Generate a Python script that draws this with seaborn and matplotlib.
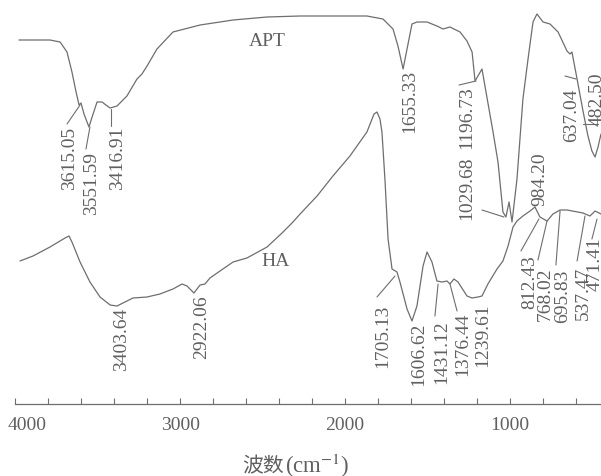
import matplotlib
matplotlib.use("Agg")
import matplotlib.pyplot as plt
import seaborn as sns
import pandas as pd
from matplotlib.ticker import MultipleLocator
from matplotlib.transforms import ScaledTranslation

# ---------------- data ----------------
apt_wavenumber = [3976, 3788, 3727, 3685, 3655, 3630, 3612, 3600, 3582, 3552,
                  3527, 3503, 3473, 3449, 3424, 3382, 3322, 3261, 3231, 3200,
                  3140, 3043, 2879, 2679, 2473, 2273, 1868, 1771, 1710, 1680,
                  1649, 1625, 1595, 1565, 1504, 1444, 1407, 1365, 1304, 1262,
                  1231, 1213, 1171, 1153, 1104, 1074, 1044, 1026, 1007, 989,
                  959, 923, 892, 862, 838, 801, 759, 710, 656, 638,
                  626, 595, 559, 529, 505, 486, 468, 450]
apt_transmittance = [364, 364, 362, 352, 332, 312, 299, 301, 290, 277,
                     290, 302, 302, 299, 296, 298, 308, 325, 330, 338,
                     355, 372, 379, 384, 387, 388, 388, 385, 375, 358,
                     335, 355, 380, 382, 382, 378, 375, 377, 372, 363,
                     352, 323, 335, 318, 272, 242, 192, 187, 202, 182,
                     225, 305, 345, 382, 390, 382, 380, 372, 353, 350,
                     352, 325, 293, 268, 253, 247, 257, 270]

ha_wavenumber = [3970, 3891, 3788, 3697, 3673, 3655, 3606, 3546, 3485, 3424,
                 3382, 3322, 3285, 3200, 3122, 3043, 2988, 2958, 2916, 2879,
                 2849, 2819, 2758, 2679, 2595, 2473, 2376, 2316, 2273, 2170,
                 2074, 1971, 1868, 1825, 1807, 1789, 1777, 1759, 1740, 1716,
                 1686, 1668, 1625, 1595, 1565, 1528, 1504, 1474, 1444, 1413,
                 1383, 1365, 1341, 1316, 1262, 1231, 1195, 1171, 1135, 1080,
                 1044, 1013, 983, 959, 923, 880, 850, 820, 777, 741,
                 698, 656, 559, 517, 486, 450]
ha_transmittance = [143, 148, 157, 166, 168, 162, 142, 122, 107, 99,
                    98, 103, 106, 107, 110, 115, 120, 118, 111, 119,
                    120, 126, 133, 142, 146, 157, 172, 182, 190, 208,
                    228, 248, 272, 290, 292, 285, 272, 225, 165, 135,
                    132, 122, 95, 83, 98, 138, 152, 142, 123, 122,
                    123, 120, 125, 122, 108, 106, 107, 108, 120, 135,
                    143, 158, 177, 183, 188, 193, 197, 187, 183, 190,
                    194, 194, 191, 188, 193, 190]

series_names = ["APT", "HA"]
series_name_x = [2473, 2419]
series_name_y = [363, 143]

peak_labels = ["3615.05", "3551.59", "3416.91", "1655.33", "1196.73",
               "1029.68", "984.20", "637.04", "482.50",
               "3403.64", "2922.06", "1705.13", "1606.62", "1431.12",
               "1376.44", "1239.61", "812.43", "768.02", "695.83",
               "537.47", "471.41"]
label_x = [3667, 3534, 3376, 1607, 1262, 1262, 820, 626, 474,
           3352, 2867, 1771, 1553, 1413, 1286, 1165, 880, 789, 680, 559, 486]
label_top = [278, 253, 278, 335, 319, 248, 253, 317, 332,
             97, 110, 100, 82, 85, 92, 102, 150, 138, 135, 138, 168]
leader_x0 = [3685, 3570, 3418, None, 1310, 1171, None, 668, 559,
             None, None, 1807, None, 1456, 1322, None, 935, 832, 723, 595, 505]
leader_y0 = [280, 255, 278, None, 319, 194, None, 328, 280,
             None, None, 107, None, 88, 93, None, 153, 144, 139, 143, 165]
leader_x1 = [3606, 3546, 3418, None, 1207, 1038, None, 601, 468,
             None, None, 1698, None, 1437, 1365, None, 826, 777, 698, 547, 474]
leader_y1 = [299, 277, 295, None, 323, 187, None, 325, 280,
             None, None, 128, None, 120, 120, None, 185, 183, 193, 188, 185]

x_major = 1000
x_minor = 200
x_label_cjk = "波数"
x_label_unit = r"(cm$^{-1}$)"

# ---------------- style ----------------
sns.set_style("white")
plt.rcParams["font.family"] = ["Liberation Serif", "Noto Sans CJK SC", "DejaVu Sans"]
plt.rcParams["mathtext.fontset"] = "stix"

line_col = "#6e6e6e"
text_col = "#606060"

fig = plt.figure(figsize=(6.01, 4.77), dpi=100)
ax = fig.add_axes([15 / 601, 72 / 477, 586 / 601, 405 / 477])

df = pd.concat([
    pd.DataFrame({"wn": apt_wavenumber, "T": apt_transmittance, "s": "APT"}),
    pd.DataFrame({"wn": ha_wavenumber, "T": ha_transmittance, "s": "HA"}),
])
sns.lineplot(data=df, x="wn", y="T", units="s", estimator=None, sort=False,
             color=line_col, linewidth=0.9, ax=ax, legend=False)

for name, x, y in zip(series_names, series_name_x, series_name_y):
    ax.text(x, y, name, ha="center", va="center", fontsize=14, color=text_col)

for lab, x, y in zip(peak_labels, label_x, label_top):
    ax.text(x, y, lab, rotation=90, ha="center", va="top", fontsize=14,
            color=text_col)

for x0, y0, x1, y1 in zip(leader_x0, leader_y0, leader_x1, leader_y1):
    if x0 is not None:
        ax.plot([x0, x1], [y0, y1], color=line_col, linewidth=0.8)

ax.set_xlim(4000, 450)
ax.set_ylim(0, 405)
ax.set_xlabel("")
ax.set_ylabel("")
ax.set_yticks([])
for side in ["left", "top", "right"]:
    ax.spines[side].set_visible(False)
ax.spines["bottom"].set_color(line_col)
ax.spines["bottom"].set_linewidth(0.9)
ax.xaxis.set_major_locator(MultipleLocator(x_major))
ax.xaxis.set_minor_locator(MultipleLocator(x_minor))
ax.tick_params(axis="x", which="both", direction="in", length=4, width=0.8,
               color=line_col, bottom=True)
ax.tick_params(axis="x", which="major", labelsize=14, labelcolor=text_col, pad=9)
ax.patch.set_alpha(0)

# shift the leftmost tick label inward so it stays inside the picture
fig.canvas.draw()
for tick in ax.xaxis.get_major_ticks():
    if abs(tick.get_loc() - 4000) < 1:
        lab = tick.label1
        lab.set_transform(lab.get_transform() +
                          ScaledTranslation(12 / 100, 0, fig.dpi_scale_trans))

fig.text(284 / 601, 11 / 477, x_label_cjk, ha="right", va="center",
         fontsize=15, color=text_col, family=["Noto Sans CJK SC"])
fig.text(285 / 601, 11 / 477, x_label_unit, ha="left", va="center",
         fontsize=16.5, color=text_col)

fig.savefig("out.png", dpi=100, facecolor="white")
